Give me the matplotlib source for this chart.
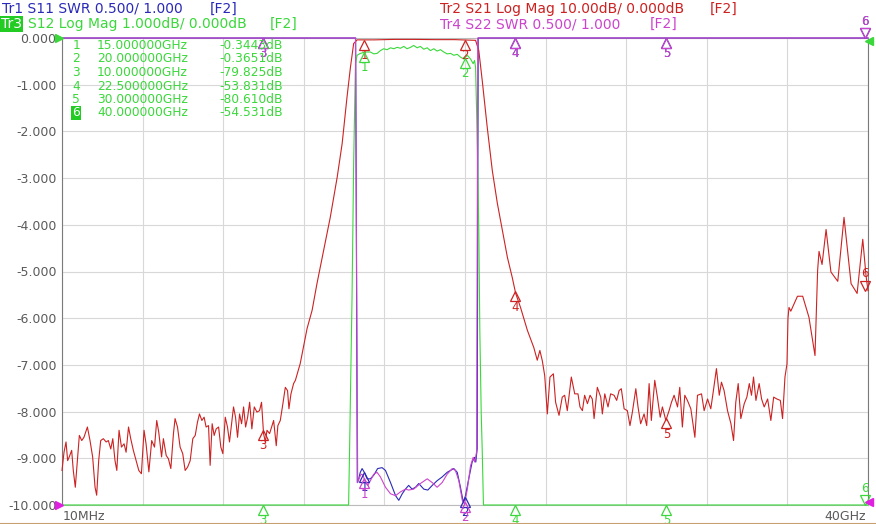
import numpy as np
import matplotlib.pyplot as plt
from matplotlib.transforms import offset_copy
from matplotlib.lines import Line2D

# ---- data ----
# S21 (Tr2), dB
s21_f = [0.01, 0.11, 0.21, 0.29, 0.37, 0.49, 0.57, 0.67, 0.77, 0.87, 0.99, 1.10, 1.27, 1.40,
         1.53, 1.65, 1.73, 1.83, 1.93, 2.06, 2.20, 2.31, 2.43, 2.53, 2.64, 2.73, 2.84, 2.96,
         3.09, 3.19, 3.31, 3.42, 3.55, 3.69, 3.82, 3.95, 4.08, 4.18, 4.32, 4.46, 4.60, 4.71,
         4.81, 4.95, 5.04, 5.18, 5.29, 5.41, 5.54, 5.62, 5.74, 5.87, 6.00, 6.12, 6.24, 6.37,
         6.50, 6.62, 6.73, 6.83, 6.95, 7.06, 7.16, 7.28, 7.36, 7.46, 7.56, 7.66, 7.78, 7.89,
         7.99, 8.11, 8.22, 8.32, 8.44, 8.52, 8.62, 8.72, 8.82, 8.92, 9.02, 9.12, 9.22, 9.32,
         9.43, 9.55, 9.68, 9.81, 9.91, 10.01, 10.10, 10.18, 10.31, 10.43, 10.51, 10.64, 10.72,
         10.84, 10.97, 11.09, 11.20, 11.27, 11.37, 11.50, 11.59, 11.83, 12.17, 12.42, 12.66,
         12.99, 13.32, 13.66, 13.91, 14.15, 14.32, 14.48, 14.65, 15.5, 16.5, 17.5, 18.5, 19.5,
         20.53, 20.69, 20.86, 21.11, 21.36, 21.61, 21.86, 22.11, 22.35, 22.52, 22.76, 23.10,
         23.42, 23.59, 23.72, 23.84, 23.96, 24.09, 24.22, 24.39, 24.50, 24.67, 24.83, 24.95,
         25.08, 25.28, 25.45, 25.61, 25.71, 25.83, 25.94, 26.08, 26.21, 26.32, 26.41, 26.57,
         26.74, 26.82, 26.94, 27.10, 27.23, 27.40, 27.53, 27.65, 27.76, 27.90, 28.06, 28.19,
         28.31, 28.48, 28.59, 28.72, 28.89, 29.02, 29.14, 29.25, 29.42, 29.55, 29.69, 29.80,
         29.97, 30.13, 30.25, 30.38, 30.55, 30.66, 30.79, 30.91, 31.04, 31.21, 31.41, 31.54,
         31.74, 31.87, 32.04, 32.20, 32.33, 32.48, 32.62, 32.73, 32.86, 33.03, 33.20, 33.33,
         33.44, 33.56, 33.69, 33.86, 33.99, 34.11, 34.22, 34.32, 34.44, 34.60, 34.72, 34.85,
         35.02, 35.18, 35.32, 35.48, 35.65, 35.76, 35.88, 35.98, 36.03, 36.08, 36.17, 36.50,
         36.76, 37.07, 37.37, 37.50, 37.57, 37.72, 37.92, 38.16, 38.50, 38.81, 39.16, 39.46,
         39.74, 39.90, 40.0]
s21_db = [-92.6, -88.7, -86.5, -90.5, -89.7, -88.3, -92.6, -96.2, -90.5, -85.1, -86.2, -85.5,
          -83.3, -86.2, -89.7, -96.2, -97.9, -90.5, -86.2, -85.8, -86.5, -86.2, -88.0, -85.8,
          -90.5, -92.6, -84.0, -87.6, -86.9, -88.7, -83.3, -85.8, -88.3, -90.5, -92.6, -93.3,
          -84.0, -86.9, -92.9, -86.2, -87.6, -81.9, -84.4, -89.7, -85.8, -89.4, -90.1, -92.2,
          -84.7, -81.5, -83.3, -87.6, -89.0, -92.6, -91.9, -90.5, -85.8, -85.1, -82.3, -80.5,
          -81.9, -81.2, -83.3, -83.0, -91.5, -82.6, -85.1, -83.7, -83.3, -87.6, -89.0, -81.2,
          -83.3, -86.5, -81.9, -79.0, -81.2, -85.5, -80.5, -82.6, -79.0, -83.3, -81.2, -78.0,
          -83.7, -79.0, -80.1, -79.8, -78.0, -84.7, -86.5, -84.0, -84.7, -83.0, -81.9, -87.3,
          -83.0, -81.9, -78.3, -74.8, -75.5, -79.4, -76.2, -74.0, -73.3, -69.7, -62.2, -58.3,
          -52.6, -45.5, -38.4, -29.9, -22.6, -12.7, -6.3, -1.2, -0.4, -0.4, -0.3, -0.3, -0.35,
          -0.35, -0.5, -2.7, -9.1, -19.2, -28.4, -35.4, -41.2, -47.0, -51.3, -54.7, -57.7,
          -62.6, -66.3, -69.0, -66.9, -69.1, -72.3, -80.5, -72.6, -71.9, -78.0, -80.8, -76.9,
          -76.5, -79.8, -72.6, -76.2, -76.2, -79.0, -79.8, -76.5, -78.3, -76.5, -77.3, -81.5,
          -74.8, -76.9, -80.5, -76.2, -79.0, -76.2, -76.5, -77.6, -75.5, -75.1, -79.4, -79.8,
          -83.0, -80.1, -75.1, -79.0, -82.6, -80.5, -83.0, -74.0, -81.9, -73.3, -76.9, -81.2,
          -79.0, -81.9, -79.8, -78.0, -76.5, -79.0, -74.8, -83.3, -76.5, -77.6, -79.4, -85.5,
          -76.5, -76.2, -79.8, -77.3, -79.4, -75.5, -70.8, -76.5, -73.7, -75.5, -79.8, -82.6,
          -86.2, -78.0, -74.0, -81.5, -78.3, -76.9, -74.0, -76.5, -72.6, -77.6, -74.0, -77.3,
          -79.0, -77.3, -81.9, -76.9, -77.3, -77.6, -81.5, -72.6, -69.8, -60.0, -57.7, -58.5,
          -55.3, -55.3, -59.8, -68.0, -49.8, -45.7, -48.5, -41.0, -50.1, -52.1, -38.4, -52.6,
          -54.7, -43.1, -50.8, -54.1]

# S12 (Tr3), dB
s12_f = [0.01, 10.0, 14.23, 14.28, 14.40, 14.48, 14.57, 14.65, 14.81, 15.06, 15.31, 15.48,
         15.64, 15.81, 15.97, 16.14, 16.31, 16.47, 16.64, 16.80, 16.97, 17.13, 17.30, 17.46,
         17.63, 17.79, 17.96, 18.13, 18.29, 18.46, 18.62, 18.79, 18.95, 19.12, 19.29, 19.45,
         19.62, 19.78, 19.95, 20.12, 20.28, 20.41, 20.48, 20.53, 20.58, 20.64, 20.69, 20.74,
         20.81, 20.86, 20.92, 21.0, 22.5, 30.0, 40.0]
s12_db = [-85.0, -79.8, -10.0, -8.77, -5.56, -2.69, -0.55, -0.37, -0.33, -0.30, -0.30, -0.34,
          -0.33, -0.27, -0.23, -0.25, -0.21, -0.23, -0.20, -0.22, -0.18, -0.23, -0.20, -0.16,
          -0.21, -0.18, -0.24, -0.21, -0.27, -0.23, -0.28, -0.25, -0.30, -0.34, -0.33, -0.37,
          -0.35, -0.41, -0.45, -0.37, -0.45, -0.55, -0.48, -0.63, -1.55, -2.90, -4.12, -6.26,
          -8.04, -8.83, -10.0, -14.0, -53.8, -80.6, -54.5]

# S11 (Tr1), SWR
s11_f = [0.01, 14.50, 14.58, 14.66, 14.73, 14.81, 14.90, 15.01, 15.15, 15.31, 15.48, 15.67,
         15.89, 16.06, 16.31, 16.56, 16.72, 16.89, 17.05, 17.21, 17.38, 17.55, 17.71, 17.96,
         18.16, 18.38, 18.62, 18.87, 19.12, 19.45, 19.62, 19.78, 19.92, 20.03, 20.19, 20.36,
         20.48, 20.54, 20.61, 20.66, 20.8, 40.0]
s11_swr = [25.0, 25.0, 6.0, 1.24, 1.28, 1.35, 1.39, 1.35, 1.28, 1.28, 1.32, 1.39, 1.40, 1.37,
           1.24, 1.10, 1.05, 1.12, 1.17, 1.21, 1.17, 1.19, 1.23, 1.17, 1.16, 1.21, 1.26, 1.30,
           1.35, 1.39, 1.35, 1.19, 1.03, 1.10, 1.28, 1.46, 1.51, 1.46, 1.60, 6.0, 25.0, 25.0]

# S22 (Tr4), SWR
s22_f = [0.01, 14.50, 14.57, 14.68, 14.78, 14.85, 14.95, 15.06, 15.18, 15.31, 15.48, 15.64,
         15.81, 16.06, 16.31, 16.56, 16.80, 17.05, 17.21, 17.46, 17.79, 18.13, 18.38, 18.62,
         18.87, 19.12, 19.37, 19.53, 19.70, 19.87, 19.98, 20.12, 20.28, 20.41, 20.49, 20.58,
         20.64, 20.8, 40.0]
s22_swr = [25.0, 25.0, 6.0, 1.24, 1.30, 1.33, 1.32, 1.24, 1.21, 1.26, 1.33, 1.35, 1.30, 1.19,
           1.12, 1.10, 1.14, 1.17, 1.16, 1.17, 1.23, 1.28, 1.24, 1.19, 1.24, 1.33, 1.39, 1.37,
           1.26, 1.05, 1.01, 1.17, 1.42, 1.51, 1.46, 1.57, 6.0, 25.0, 25.0]

marker_f = [15.0, 20.0, 10.0, 22.5, 30.0, 40.0]
marker_txt = ["15.000000GHz", "20.000000GHz", "10.000000GHz",
              "22.500000GHz", "30.000000GHz", "40.000000GHz"]
marker_val = ["-0.3443dB", "-0.3651dB", "-79.825dB", "-53.831dB", "-80.610dB", "-54.531dB"]

C_BLUE = '#2a2ab8'
C_RED = '#cc2222'
C_GREEN = '#3ad83a'
C_MAG = '#cc44cc'
C_GRAY = '#5a5a5a'


def s21_disp(db):
    return np.clip(np.asarray(db) / 10.0, -10, 0)


def s12_disp(db):
    return np.clip(np.asarray(db), -10, 0)


def swr_disp(s):
    return np.clip(-10 + (np.asarray(s) - 1) / 0.5, -10, 0)


W, H = 876, 524
fig = plt.figure(figsize=(W / 100, H / 100), dpi=100)
ax = fig.add_axes([62 / W, 19 / H, 806 / W, 467 / H])
ax.set_xlim(0.01, 40)
ax.set_ylim(-10, 0)
ax.set_xticks(np.linspace(0.01, 40, 11))
ax.set_yticks(np.arange(-10, 1))
ax.set_yticklabels([f"{v:.3f}" for v in np.arange(-10, 1)])
ax.grid(color='#d8d8d8', lw=0.8)
ax.tick_params(length=0, labelbottom=False, labelsize=9, labelcolor=C_GRAY, pad=4)
for side in ['left', 'right']:
    ax.spines[side].set_color('#7a7a7a')
for side in ['top', 'bottom']:
    ax.spines[side].set_color('#bbbbbb')

traces = [
    (s11_f, swr_disp(s11_swr), C_BLUE),
    (s21_f, s21_disp(s21_db), C_RED),
    (s12_f, s12_disp(s12_db), C_GREEN),
    (s22_f, swr_disp(s22_swr), C_MAG),
]
for fx, fy, col in traces:
    ax.plot(fx, fy, color=col, lw=0.8, clip_on=False, zorder=3)

# markers
for fx, fy, col in traces:
    for i, f in enumerate(marker_f):
        y = np.interp(f, fx, fy)
        n = str(i + 1)
        if i == 5:
            tri = offset_copy(ax.transData, fig=fig, x=-2, y=3.5, units='points')
            lab = offset_copy(ax.transData, fig=fig, x=-2, y=7.5, units='points')
            ax.plot([f], [y], marker='v', ms=7, mfc='none', mec=col, mew=0.9,
                    transform=tri, clip_on=False, zorder=4)
            ax.text(f, y, n, color=col, fontsize=8.5, ha='center', va='bottom',
                    transform=lab, clip_on=False, zorder=4)
        else:
            tri = offset_copy(ax.transData, fig=fig, x=0, y=-3.5, units='points')
            lab = offset_copy(ax.transData, fig=fig, x=0, y=-6.5, units='points')
            ax.plot([f], [y], marker='^', ms=7, mfc='none', mec=col, mew=0.9,
                    transform=tri, clip_on=False, zorder=4)
            ax.text(f, y, n, color=col, fontsize=8.5, ha='center', va='top',
                    transform=lab, clip_on=False, zorder=4)

# reference position arrows
ax.plot([0.01], [0], marker='>', ms=6, color=C_GREEN, clip_on=False, zorder=5,
        transform=offset_copy(ax.transData, fig=fig, x=-2, y=0, units='points'))
ax.plot([0.01], [-10], marker='>', ms=6, color='#e020e0', clip_on=False, zorder=5,
        transform=offset_copy(ax.transData, fig=fig, x=-2, y=0, units='points'))
ax.plot([40], [0], marker='<', ms=6, color=C_GREEN, clip_on=False, zorder=5,
        transform=offset_copy(ax.transData, fig=fig, x=1, y=-2, units='points'))
ax.plot([40], [-10], marker='<', ms=6, color='#e020e0', clip_on=False, zorder=5,
        transform=offset_copy(ax.transData, fig=fig, x=1, y=2, units='points'))


def px(x, y):
    return x / W, 1 - y / H


# header lines
fig.text(*px(2, 9), "Tr1 S11 SWR 0.500/ 1.000", color=C_BLUE, fontsize=10, va='center')
fig.text(*px(210, 9), "[F2]", color=C_BLUE, fontsize=10, va='center')
fig.text(*px(440, 9), "Tr2 S21 Log Mag 10.00dB/ 0.000dB", color=C_RED, fontsize=10, va='center')
fig.text(*px(710, 9), "[F2]", color=C_RED, fontsize=10, va='center')
fig.text(*px(1, 24), "Tr3", color='white', fontsize=10, va='center',
         bbox=dict(facecolor='#22cc22', edgecolor='none', pad=0.8))
fig.text(*px(28, 24), "S12 Log Mag 1.000dB/ 0.000dB", color=C_GREEN, fontsize=10, va='center')
fig.text(*px(270, 24), "[F2]", color=C_GREEN, fontsize=10, va='center')
fig.text(*px(440, 24), "Tr4 S22 SWR 0.500/ 1.000", color=C_MAG, fontsize=10, va='center')
fig.text(*px(650, 24), "[F2]", color=C_MAG, fontsize=10, va='center')

# marker table
for i in range(6):
    yy = 45.5 + i * 13.5
    if i == 5:
        fig.text(*px(80, yy), str(i + 1), color='white', fontsize=8.8, ha='right', va='center',
                 bbox=dict(facecolor='#22cc22', edgecolor='none', pad=0.6))
    else:
        fig.text(*px(80, yy), str(i + 1), color=C_GREEN, fontsize=8.8, ha='right', va='center')
    fig.text(*px(97, yy), marker_txt[i], color=C_GREEN, fontsize=8.8, va='center')
    fig.text(*px(283, yy), marker_val[i], color=C_GREEN, fontsize=8.8, ha='right', va='center')

# frequency span labels
fig.text(*px(63, 516), "10MHz", color=C_GRAY, fontsize=9, va='center')
fig.text(*px(866, 516), "40GHz", color=C_GRAY, fontsize=9, va='center', ha='right')

fig.add_artist(Line2D([0, 1], [0.5 / H, 0.5 / H], color='#c8a070', lw=1.5))

fig.savefig("out.png", dpi=100)
